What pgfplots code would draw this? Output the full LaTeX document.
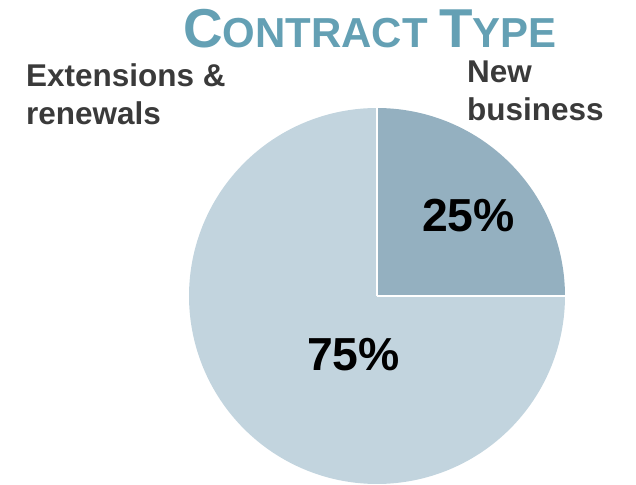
\documentclass[border=0pt]{standalone}
\usepackage{pgfplots}
\usepackage{pgfplotstable}
\pgfplotsset{compat=1.18}
\usepackage{fontspec}
\setmainfont{Liberation Sans}
\definecolor{newc}{HTML}{94B0C0}
\definecolor{extc}{HTML}{C2D4DE}
\definecolor{titlec}{HTML}{64A0B4}
\definecolor{labc}{HTML}{3A3A3A}
\pgfplotstableread{
label value
New 25
Ext 75
}\piedata
\pgfplotstablegetelem{0}{value}\of\piedata
\pgfmathsetmacro{\vA}{\pgfplotsretval}
\pgfplotstablegetelem{1}{value}\of\piedata
\pgfmathsetmacro{\vB}{\pgfplotsretval}
\pgfmathsetmacro{\aS}{90}
\pgfmathsetmacro{\aM}{90-\vA*3.6}
\pgfmathsetmacro{\aE}{\aM-\vB*3.6}
\begin{document}
\begin{tikzpicture}
\useasboundingbox (0,0) rectangle (636bp,485bp);
\begin{axis}[
  anchor=origin, at={(0,0)},
  x=1bp, y=1bp,
  xmin=0, xmax=636, ymin=0, ymax=485,
  hide axis, clip=false,
  scale only axis,
]
\addplot[fill=newc, draw=none, domain=\aM:\aS, samples=80]
  ({377+188*cos(x)},{189+188*sin(x)}) -- (axis cs:377,189) -- cycle;
\addplot[fill=extc, draw=none, domain=\aE:\aM, samples=200]
  ({377+188*cos(x)},{189+188*sin(x)}) -- (axis cs:377,189) -- cycle;
\draw[white, line width=2bp] (axis cs:377,189) -- (axis cs:377,380);
\draw[white, line width=2bp] (axis cs:377,189) -- (axis cs:570,189);
\node[anchor=base, inner sep=0pt, text=titlec, font=\bfseries] at (axis cs:370,437)
  {\fontsize{55}{60}\selectfont C\fontsize{42.1}{48}\selectfont ONTRACT \fontsize{55}{60}\selectfont T\fontsize{42.1}{48}\selectfont YPE};
\node[anchor=base west, inner sep=0pt, text=labc, font=\bfseries\fontsize{31.6}{36}\selectfont] at (axis cs:26,398) {Extensions \&};
\node[anchor=base west, inner sep=0pt, text=labc, font=\bfseries\fontsize{31.6}{36}\selectfont] at (axis cs:26,361) {renewals};
\node[anchor=base west, inner sep=0pt, text=labc, font=\bfseries\fontsize{31.6}{36}\selectfont] at (axis cs:467,402) {New};
\node[anchor=base west, inner sep=0pt, text=labc, font=\bfseries\fontsize{31.6}{36}\selectfont] at (axis cs:467,365) {business};
\node[anchor=base, inner sep=0pt, text=black, font=\bfseries\fontsize{46.5}{50}\selectfont] at (axis cs:468.5,254) {25\%};
\node[anchor=base, inner sep=0pt, text=black, font=\bfseries\fontsize{46.5}{50}\selectfont] at (axis cs:353.5,115) {75\%};
\end{axis}
\end{tikzpicture}
\end{document}
